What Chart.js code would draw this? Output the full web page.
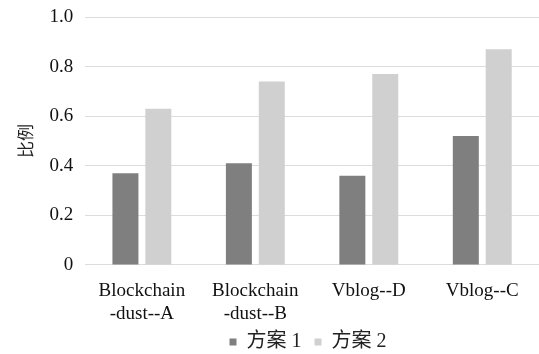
<!DOCTYPE html>
<html>
<head>
<meta charset="utf-8">
<script src="https://cdn.jsdelivr.net/npm/chart.js@4/dist/chart.umd.min.js"></script>
<style>
  html, body { margin: 0; padding: 0; background: #fff; }
</style>
</head>
<body>
<canvas id="chart" width="539" height="354"></canvas>
<script>
// categories and values
var categories = [['Blockchain', '-dust--A'], ['Blockchain', '-dust--B'], 'Vblog--D', 'Vblog--C'];
var plan1 = [0.37, 0.41, 0.36, 0.52];
var plan2 = [0.63, 0.74, 0.77, 0.87];
var seriesNames = ['方案 1', '方案 2'];
var yTicks = [0, 0.2, 0.4, 0.6, 0.8, 1.0];

var serif = '"Liberation Serif", "Times New Roman", "Noto Sans CJK SC", serif';

// legend sits a bit right of centre and tucked under the labels in the original
var legendShift = {
    id: 'legendShift',
    afterLayout: function (chart) {
        var lg = chart.legend;
        if (lg) {
            lg.left += 30;
            lg.right += 30;
            lg.top -= 13;
            lg.bottom -= 13;
        }
    }
};

new Chart(document.getElementById('chart'), {
    type: 'bar',
    data: {
        labels: categories,
        datasets: [{
            label: seriesNames[0],
            data: plan1,
            backgroundColor: '#7f7f7f',
            categoryPercentage: 0.58,
            barPercentage: 0.79
        }, {
            label: seriesNames[1],
            data: plan2,
            backgroundColor: '#d0d0d0',
            categoryPercentage: 0.58,
            barPercentage: 0.79
        }]
    },
    options: {
        responsive: false,
        animation: false,
        layout: { padding: { top: 0, left: 17, right: 0, bottom: -21 } },
        plugins: {
            legend: {
                position: 'bottom',
                labels: {
                    boxWidth: 7,
                    boxHeight: 7,
                    padding: 13,
                    color: '#222',
                    font: { family: serif, size: 20 }
                }
            },
            tooltip: { enabled: false }
        },
        scales: {
            x: {
                grid: { display: false },
                border: { display: false },
                ticks: {
                    color: '#111',
                    padding: 6,
                    maxRotation: 0,
                    autoSkip: false,
                    font: { family: serif, size: 19, lineHeight: 1.24 }
                }
            },
            y: {
                min: 0,
                max: 1,
                afterBuildTicks: function (axis) {
                    axis.ticks = yTicks.map(function (v) { return { value: v }; });
                },
                afterFit: function (scale) { scale.paddingTop = 17; },
                grid: { color: '#dcdcdc', lineWidth: 1, drawTicks: false },
                border: { display: false },
                ticks: {
                    color: '#111',
                    padding: 12,
                    font: { family: serif, size: 19 },
                    callback: function (v) { return v === 0 ? '0' : v.toFixed(1); }
                },
                title: {
                    display: true,
                    text: '比例',
                    color: '#222',
                    font: { family: serif, size: 17 },
                    padding: { top: 0, bottom: 0 }
                }
            }
        }
    },
    plugins: [legendShift]
});
</script>
</body>
</html>
